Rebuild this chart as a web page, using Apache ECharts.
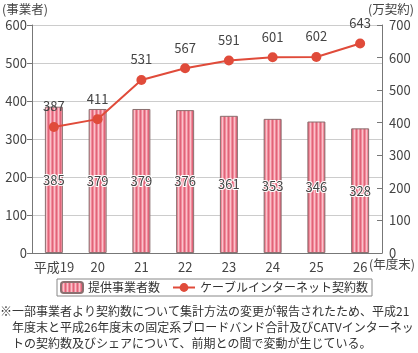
<!DOCTYPE html>
<html>
<head>
<meta charset="utf-8">
<script src="https://cdn.jsdelivr.net/npm/echarts@6/dist/echarts.min.js"></script>
<style>
html,body{margin:0;padding:0;background:#fff;}
#c{width:418px;height:353px;}
</style>
</head>
<body>
<div id="c"></div>
<script>
var categories = ['平成19','20','21','22','23','24','25','26'];
var providers = [385,379,379,376,361,353,346,328];
var subscriptions = [387,411,531,567,591,601,602,643];
var leftTicks = {min:0, max:600, interval:100};
var rightTicks = {min:0, max:700, interval:100};

var FONT = '"Noto Sans CJK JP", "Noto Sans", sans-serif';

function stripe(){
  var c = document.createElement('canvas');
  c.width = 4; c.height = 4;
  var g = c.getContext('2d');
  g.fillStyle = '#f28c9c'; g.fillRect(0,0,4,4);
  g.fillStyle = '#df6479'; g.fillRect(0,0,1,4);
  g.fillStyle = '#f9c2cb'; g.fillRect(2,0,1,4);
  return c;
}
var pat = {image: stripe(), repeat: 'repeat'};

var chart = echarts.init(document.getElementById('c'));
chart.setOption({
  animation:false,
  textStyle:{fontFamily:FONT},
  grid:{left:32, right:36, top:25, bottom:100},
  legend:{
    left:57, top:279,
    itemGap:12, itemWidth:22, itemHeight:11,
    padding:[2,4,2,3],
    borderColor:'#888', borderWidth:1,
    textStyle:{fontSize:12, color:'#333', fontFamily:FONT},
    data:[{name:'提供事業者数'},{name:'ケーブルインターネット契約数'}]
  },
  xAxis:{
    type:'category', data:categories, boundaryGap:true,
    axisLine:{lineStyle:{color:'#777'}},
    axisTick:{inside:true, length:4, lineStyle:{color:'#777'}},
    axisLabel:{fontSize:13, color:'#444', margin:8, interval:0}
  },
  yAxis:[{
    type:'value', min:leftTicks.min, max:leftTicks.max, interval:leftTicks.interval,
    axisLine:{show:true, lineStyle:{color:'#777'}},
    axisTick:{show:true, length:5, lineStyle:{color:'#777'}},
    axisLabel:{fontSize:13, color:'#444', margin:5},
    splitLine:{lineStyle:{color:'#ccc'}}
  },{
    type:'value', min:rightTicks.min, max:rightTicks.max, interval:rightTicks.interval,
    position:'right',
    axisLine:{show:true, lineStyle:{color:'#777'}},
    axisTick:{show:true, inside:true, length:5, lineStyle:{color:'#777'}},
    axisLabel:{fontSize:13, color:'#444', margin:7},
    splitLine:{show:false}
  }],
  graphic:[
    {type:'text', left:2, top:3, style:{text:'(事業者)', fontSize:12.5, fill:'#444', fontFamily:FONT}},
    {type:'text', right:4, top:3, style:{text:'(万契約)', fontSize:12.5, fill:'#444', fontFamily:FONT}},
    {type:'text', left:369, top:258, style:{text:'(年度末)', fontSize:12.5, fill:'#444', fontFamily:FONT}},
    {type:'text', left:0, top:303, style:{
      text:'※一部事業者より契約数について集計方法の変更が報告されたため、平成21\n　年度末と平成26年度末の固定系ブロードバンド合計及びCATVインターネッ\n　トの契約数及びシェアについて、前期との間で変動が生じている。',
      fontSize:12, lineHeight:16, fill:'#333', fontFamily:FONT}}
  ],
  series:[{
    name:'提供事業者数', type:'bar', yAxisIndex:0, data:providers,
    barWidth:18,
    itemStyle:{color:pat, borderColor:'#8a7070', borderWidth:1},
    label:{show:true, position:'inside', fontSize:13, color:'#444',
      textBorderColor:'#fff', textBorderWidth:2, fontFamily:FONT}
  },{
    name:'ケーブルインターネット契約数', type:'line', yAxisIndex:1, data:subscriptions,
    symbol:'circle', symbolSize:10,
    lineStyle:{color:'#e04b3a', width:2},
    itemStyle:{color:'#e04b3a'},
    label:{show:true, position:'top', distance:9, fontSize:13, color:'#444', fontFamily:FONT}
  }]
});
</script>
</body>
</html>
